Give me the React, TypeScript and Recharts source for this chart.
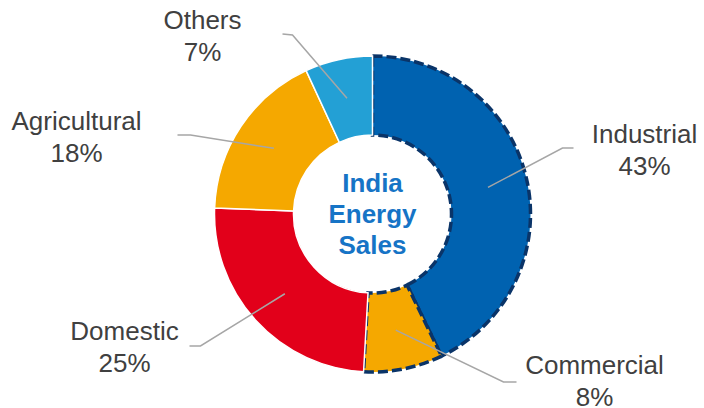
import { PieChart, Pie, Cell } from 'recharts'

const sectors = ['Industrial', 'Commercial', 'Domestic', 'Agricultural', 'Others']
const shares = [42.8, 8.1, 24.7, 17.5, 6.9]
const colors = ['#0062b0', '#f5a800', '#e2001a', '#f5a800', '#23a0d5']
const highlighted = [true, true, false, false, false]
const centerLines = ['India', 'Energy', 'Sales']

// label layout, relative to pie centre: elbow, end of the short tail, text anchor
const labelLayout = [
  { elbow: [190, -66], tail: [201, -66], text: [272, -71] },
  { elbow: [131, 168], tail: [144, 168], text: [222, 160] },
  { elbow: [-172, 132], tail: [-183, 132], text: [-248, 126] },
  { elbow: [-182, -79], tail: [-195, -79], text: [-296, -84] },
  { elbow: [-80, -179], tail: [-90, -180], text: [-170, -185] },
]

const data = sectors.map((name, i) => ({ name, value: shares[i] }))

const RAD = Math.PI / 180
const CX = 372.5
const CY = 214

function renderLabel(props: any) {
  const { cx, cy, midAngle, innerRadius, outerRadius, index, value, name } = props
  const r = (innerRadius + outerRadius) / 2
  const sx = cx + r * Math.cos(-midAngle * RAD)
  const sy = cy + r * Math.sin(-midAngle * RAD)
  const l = labelLayout[index]
  const pts = `${sx},${sy} ${cx + l.elbow[0]},${cy + l.elbow[1]} ${cx + l.tail[0]},${cy + l.tail[1]}`
  return (
    <g key={`lbl-${index}`}>
      <polyline points={pts} fill="none" stroke="#a6a6a6" strokeWidth={1.5} />
      <text
        x={cx + l.text[0]}
        y={cy + l.text[1]}
        textAnchor="middle"
        fill="#404040"
        fontSize={26}
        fontFamily="'Liberation Sans', Arial, sans-serif"
      >
        <tspan x={cx + l.text[0]}>{name}</tspan>
        <tspan x={cx + l.text[0]} dy={32}>{`${Math.round(value)}%`}</tspan>
      </text>
    </g>
  )
}

export default function App() {
  return (
    <div style={{ position: 'absolute', left: 0, top: 0, width: 704, height: 408, background: '#fff' }}>
      <PieChart width={704} height={408} margin={{ top: 0, right: 0, bottom: 0, left: 0 }}>
        <Pie
          data={data}
          dataKey="value"
          nameKey="name"
          cx={CX}
          cy={CY}
          innerRadius={79}
          outerRadius={158}
          startAngle={90}
          endAngle={-270}
          label={renderLabel}
          labelLine={false}
          isAnimationActive={false}
        >
          {data.map((d, i) => (
            <Cell
              key={d.name}
              fill={colors[i]}
              stroke={highlighted[i] ? '#0a3468' : '#ffffff'}
              strokeWidth={highlighted[i] ? 3.5 : 1.5}
              strokeDasharray={highlighted[i] ? '10 4' : undefined}
            />
          ))}
        </Pie>
        <text
          x={CX}
          y={192}
          textAnchor="middle"
          fill="#1674c6"
          fontSize={26}
          fontWeight="bold"
          fontFamily="'Liberation Sans', Arial, sans-serif"
        >
          {centerLines.map((t, i) => (
            <tspan key={t} x={CX} dy={i === 0 ? 0 : 31}>{t}</tspan>
          ))}
        </text>
      </PieChart>
    </div>
  )
}
